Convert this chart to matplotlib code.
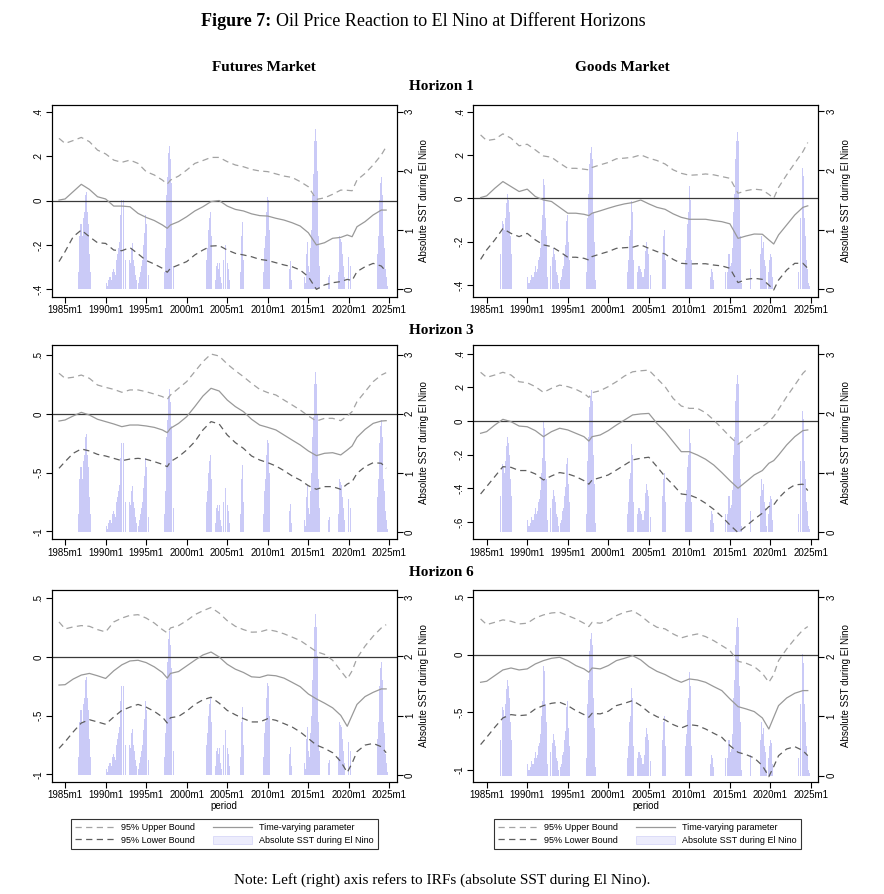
import matplotlib
matplotlib.use("Agg")
import matplotlib.pyplot as plt
from matplotlib.ticker import FuncFormatter
from matplotlib.patches import Patch
from matplotlib.lines import Line2D

SANS = "Liberation Sans"
SERIF = "Liberation Serif"

# x grid for the IRF lines (decimal years)
years = [1984.25, 1985, 1986, 1987, 1988, 1989, 1990, 1991, 1992, 1993,
         1994, 1995, 1996, 1997, 1997.6, 1998, 1999, 2000, 2001, 2002,
         2003, 2004, 2005, 2006, 2007, 2008, 2009, 2010, 2011, 2012,
         2013, 2014, 2015, 2016, 2017, 2018, 2019, 2019.8, 2020.4, 2021,
         2022, 2023, 2024, 2024.6]

# ---- Horizon 1, futures
h1_fut_upper = [0.28, 0.257, 0.27, 0.284, 0.265, 0.227, 0.21, 0.182, 0.172, 0.182,
                0.167, 0.13, 0.115, 0.092, 0.074, 0.092, 0.11, 0.137, 0.167, 0.18,
                0.194, 0.194, 0.175, 0.16, 0.152, 0.14, 0.133, 0.13, 0.12, 0.11,
                0.104, 0.085, 0.062, 0.005, 0.012, 0.028, 0.047, 0.046, 0.044, 0.092,
                0.122, 0.16, 0.205, 0.242]
h1_fut_param = [0.002, 0.007, 0.04, 0.073, 0.05, 0.017, 0.007, -0.025, -0.025, -0.028,
                -0.058, -0.076, -0.09, -0.11, -0.125, -0.11, -0.095, -0.073, -0.047, -0.028,
                -0.005, 0.0, -0.025, -0.04, -0.047, -0.06, -0.068, -0.07, -0.08, -0.088,
                -0.1, -0.115, -0.145, -0.2, -0.19, -0.17, -0.166, -0.155, -0.163, -0.118,
                -0.095, -0.065, -0.043, -0.043]
h1_fut_lower = [-0.275, -0.23, -0.163, -0.133, -0.163, -0.19, -0.193, -0.223, -0.226, -0.212,
                -0.24, -0.27, -0.286, -0.305, -0.323, -0.305, -0.29, -0.275, -0.245, -0.223,
                -0.205, -0.203, -0.223, -0.238, -0.245, -0.253, -0.265, -0.27, -0.28, -0.29,
                -0.298, -0.313, -0.343, -0.4, -0.38, -0.37, -0.365, -0.355, -0.36, -0.32,
                -0.298, -0.283, -0.295, -0.32]

# ---- Horizon 1, goods
h1_goods_upper = [0.292, 0.266, 0.272, 0.297, 0.277, 0.242, 0.249, 0.223, 0.195, 0.189,
                  0.162, 0.138, 0.138, 0.134, 0.131, 0.142, 0.154, 0.165, 0.182, 0.185,
                  0.189, 0.2, 0.185, 0.174, 0.158, 0.131, 0.115, 0.106, 0.108, 0.112,
                  0.108, 0.1, 0.092, 0.023, 0.035, 0.042, 0.038, 0.018, 0.0, 0.05,
                  0.108, 0.162, 0.215, 0.257]
h1_goods_param = [0.003, 0.011, 0.046, 0.077, 0.054, 0.031, 0.042, 0.008, -0.008, -0.015,
                  -0.042, -0.069, -0.069, -0.074, -0.08, -0.069, -0.058, -0.046, -0.035, -0.026,
                  -0.02, -0.008, -0.026, -0.042, -0.051, -0.072, -0.088, -0.097, -0.097, -0.097,
                  -0.103, -0.108, -0.118, -0.185, -0.174, -0.165, -0.166, -0.192, -0.211, -0.169,
                  -0.123, -0.077, -0.042, -0.035]
h1_goods_lower = [-0.282, -0.238, -0.192, -0.14, -0.162, -0.177, -0.162, -0.192, -0.215, -0.223,
                  -0.246, -0.272, -0.272, -0.277, -0.285, -0.269, -0.257, -0.246, -0.231, -0.228,
                  -0.226, -0.215, -0.231, -0.246, -0.257, -0.282, -0.3, -0.303, -0.302, -0.302,
                  -0.308, -0.312, -0.323, -0.389, -0.374, -0.369, -0.374, -0.4, -0.423, -0.377,
                  -0.331, -0.3, -0.3, -0.323]

# ---- Horizon 3, futures
h3_fut_upper = [0.347, 0.304, 0.313, 0.332, 0.304, 0.247, 0.227, 0.21, 0.185, 0.205,
                0.205, 0.19, 0.17, 0.148, 0.125, 0.162, 0.219, 0.276, 0.361, 0.446,
                0.511, 0.494, 0.426, 0.369, 0.318, 0.261, 0.21, 0.182, 0.162, 0.119,
                0.077, 0.034, -0.017, -0.06, -0.037, -0.037, -0.057, -0.017, 0.02, 0.105,
                0.19, 0.276, 0.332, 0.352]
h3_fut_param = [-0.06, -0.051, -0.017, 0.014, -0.009, -0.045, -0.065, -0.085, -0.108, -0.094,
                -0.094, -0.102, -0.114, -0.136, -0.159, -0.122, -0.08, -0.023, 0.063, 0.153,
                0.219, 0.196, 0.119, 0.063, 0.02, -0.045, -0.094, -0.114, -0.136, -0.179,
                -0.222, -0.264, -0.315, -0.355, -0.335, -0.33, -0.349, -0.307, -0.273, -0.199,
                -0.131, -0.08, -0.06, -0.057]
h3_fut_lower = [-0.463, -0.406, -0.335, -0.298, -0.315, -0.344, -0.358, -0.378, -0.398, -0.384,
                -0.378, -0.386, -0.406, -0.429, -0.449, -0.406, -0.364, -0.307, -0.236, -0.136,
                -0.065, -0.085, -0.179, -0.244, -0.293, -0.358, -0.392, -0.415, -0.443, -0.483,
                -0.528, -0.563, -0.611, -0.642, -0.619, -0.619, -0.642, -0.597, -0.577, -0.506,
                -0.449, -0.415, -0.42, -0.463]

# ---- Horizon 3, goods
h3_goods_upper = [0.289, 0.259, 0.273, 0.289, 0.273, 0.233, 0.227, 0.204, 0.17, 0.194,
                  0.213, 0.204, 0.188, 0.164, 0.14, 0.168, 0.18, 0.204, 0.233, 0.267,
                  0.292, 0.298, 0.302, 0.253, 0.204, 0.134, 0.089, 0.075, 0.075, 0.049,
                  0.006, -0.043, -0.093, -0.138, -0.103, -0.063, -0.034, -0.004, 0.026, 0.069,
                  0.144, 0.213, 0.283, 0.312]
h3_goods_param = [-0.073, -0.063, -0.024, 0.01, -0.004, -0.03, -0.034, -0.057, -0.093, -0.063,
                  -0.043, -0.053, -0.073, -0.093, -0.119, -0.093, -0.083, -0.057, -0.024, 0.006,
                  0.036, 0.042, 0.045, -0.014, -0.063, -0.123, -0.182, -0.182, -0.202, -0.227,
                  -0.261, -0.306, -0.354, -0.399, -0.36, -0.32, -0.294, -0.251, -0.235, -0.202,
                  -0.142, -0.093, -0.057, -0.053]
h3_goods_lower = [-0.433, -0.389, -0.33, -0.271, -0.275, -0.294, -0.294, -0.314, -0.35, -0.326,
                  -0.306, -0.314, -0.33, -0.354, -0.375, -0.35, -0.336, -0.32, -0.291, -0.261,
                  -0.231, -0.221, -0.215, -0.271, -0.33, -0.379, -0.433, -0.439, -0.458, -0.488,
                  -0.524, -0.567, -0.617, -0.662, -0.623, -0.583, -0.547, -0.508, -0.498, -0.458,
                  -0.409, -0.379, -0.375, -0.413]

# ---- Horizon 6, futures
h6_fut_upper = [0.298, 0.239, 0.256, 0.267, 0.261, 0.233, 0.213, 0.298, 0.331, 0.354,
                0.36, 0.331, 0.289, 0.233, 0.205, 0.247, 0.267, 0.309, 0.36, 0.393,
                0.421, 0.374, 0.309, 0.261, 0.233, 0.211, 0.213, 0.233, 0.219, 0.197,
                0.169, 0.14, 0.093, 0.045, 0.022, -0.028, -0.118, -0.188, -0.118, -0.011,
                0.093, 0.177, 0.247, 0.275]
h6_fut_param = [-0.239, -0.236, -0.188, -0.154, -0.14, -0.16, -0.183, -0.118, -0.067, -0.034,
                -0.028, -0.048, -0.084, -0.132, -0.18, -0.14, -0.124, -0.076, -0.028, 0.017,
                0.042, 0.0, -0.062, -0.104, -0.132, -0.169, -0.174, -0.154, -0.16, -0.18,
                -0.216, -0.253, -0.315, -0.357, -0.393, -0.433, -0.497, -0.59, -0.497, -0.404,
                -0.337, -0.301, -0.272, -0.272]
h6_fut_lower = [-0.778, -0.722, -0.638, -0.562, -0.534, -0.553, -0.573, -0.511, -0.455, -0.427,
                -0.404, -0.427, -0.463, -0.511, -0.562, -0.517, -0.506, -0.461, -0.404, -0.365,
                -0.343, -0.393, -0.455, -0.492, -0.525, -0.553, -0.553, -0.525, -0.539, -0.567,
                -0.596, -0.638, -0.694, -0.75, -0.778, -0.815, -0.89, -0.983, -0.904, -0.806,
                -0.75, -0.736, -0.764, -0.815]

# ---- Horizon 6, goods
h6_goods_upper = [0.309, 0.26, 0.28, 0.301, 0.289, 0.266, 0.272, 0.318, 0.344, 0.361,
                  0.367, 0.338, 0.309, 0.272, 0.243, 0.28, 0.272, 0.295, 0.338, 0.367,
                  0.382, 0.338, 0.28, 0.237, 0.223, 0.179, 0.145, 0.165, 0.179, 0.156,
                  0.121, 0.078, 0.035, -0.058, -0.075, -0.104, -0.162, -0.24, -0.173, -0.052,
                  0.049, 0.136, 0.214, 0.243]
h6_goods_param = [-0.24, -0.231, -0.182, -0.133, -0.116, -0.133, -0.124, -0.081, -0.052, -0.032,
                  -0.023, -0.052, -0.095, -0.124, -0.153, -0.116, -0.124, -0.095, -0.052, -0.032,
                  -0.009, -0.046, -0.104, -0.145, -0.173, -0.211, -0.24, -0.211, -0.22, -0.24,
                  -0.277, -0.312, -0.384, -0.451, -0.471, -0.494, -0.549, -0.645, -0.543, -0.442,
                  -0.376, -0.335, -0.312, -0.312]
h6_goods_lower = [-0.78, -0.717, -0.63, -0.549, -0.52, -0.529, -0.523, -0.471, -0.442, -0.422,
                  -0.413, -0.442, -0.486, -0.52, -0.543, -0.509, -0.514, -0.491, -0.442, -0.422,
                  -0.399, -0.442, -0.5, -0.538, -0.566, -0.607, -0.636, -0.607, -0.616, -0.645,
                  -0.682, -0.717, -0.789, -0.847, -0.867, -0.896, -0.962, -1.058, -0.971, -0.876,
                  -0.818, -0.798, -0.832, -0.876]

# Absolute SST during El Nino: (start year, start month, monthly values)
sst_episodes = [
    (1986, 8, [0.3, 0.6, 0.9, 1.1, 1.15, 1.1, 0.9, 1.0, 1.2, 1.3, 1.45, 1.6, 1.65,
               1.5, 1.3, 1.1, 0.9, 0.6, 0.3]),
    (1990, 1, [0.2, 0.1, 0.05, 0.1, 0.15, 0.2, 0.25, 0.2, 0.15, 0.2, 0.3, 0.35,
               0.4, 0.3, 0.25, 0.35, 0.5, 0.6, 0.55, 0.7, 0.8, 1.0, 1.25, 1.5,
               1.85, 1.75, 1.5, 1.2, 0.9, 0.5, 0.2]),
    (1992, 11, [0.4, 0.5, 0.45, 0.55, 0.7, 0.78, 0.6, 0.5, 0.4, 0.3, 0.25, 0.15, 0.1]),
    (1994, 1, [0.1, 0.15, 0.2, 0.3, 0.35, 0.4, 0.5, 0.6, 0.75, 0.95, 1.15, 1.25,
               1.1, 0.8, 0.5, 0.25]),
    (1997, 4, [0.3, 0.7, 1.2, 1.6, 1.9, 2.1, 2.3, 2.42, 2.4, 2.2, 1.8, 1.3, 0.8, 0.4, 0.15]),
    (2002, 5, [0.3, 0.5, 0.7, 0.9, 1.0, 1.2, 1.48, 1.3, 0.9, 0.5]),
    (2003, 7, [0.15, 0.3, 0.4, 0.45, 0.4, 0.35, 0.45, 0.3, 0.2, 0.1, 0.2, 0.35,
               0.5, 0.65, 0.8, 0.75, 0.7, 0.6, 0.45, 0.35, 0.25, 0.15]),
    (2006, 8, [0.3, 0.6, 0.9, 1.14, 1.0, 0.5]),
    (2009, 6, [0.3, 0.5, 0.7, 0.9, 1.1, 1.3, 1.55, 1.74, 1.5, 1.0, 0.5]),
    (2012, 8, [0.2, 0.35, 0.47, 0.3, 0.15]),
    (2014, 6, [0.3, 0.2, 0.1, 0.3, 0.6, 0.8, 0.6, 0.4, 0.3, 0.45, 0.7, 1.0, 1.3,
               1.6, 1.95, 2.2, 2.5, 2.71, 2.65, 2.5, 2.0, 1.5, 0.9, 0.4, 0.1]),
    (2017, 6, [0.2, 0.35, 0.25]),
    (2018, 9, [0.3, 0.6, 0.9, 0.85, 0.7, 0.8, 0.6, 0.5, 0.4, 0.2, 0.1]),
    (2019, 10, [0.3, 0.5, 0.55, 0.6, 0.55, 0.4, 0.2]),
    (2023, 6, [0.3, 0.6, 0.9, 1.2, 1.5, 1.8, 2.04, 1.9, 1.6, 1.2, 0.9, 0.7,
               0.5, 0.35, 0.2, 0.1, 0.05]),
]

xtick_years = [1985, 1990, 1995, 2000, 2005, 2010, 2015, 2020, 2025]
xtick_labels = [f"{y}m1" for y in xtick_years]

# panel settings: (upper, param, lower, left ylim, left ticks, right ylim)
panels = {
    (0, 0): (h1_fut_upper, h1_fut_param, h1_fut_lower, (-0.433, 0.43),
             [-0.4, -0.2, 0, 0.2, 0.4], (-0.124, 3.11)),
    (0, 1): (h1_goods_upper, h1_goods_param, h1_goods_lower, (-0.454, 0.43),
             [-0.4, -0.2, 0, 0.2, 0.4], (-0.123, 3.10)),
    (1, 0): (h3_fut_upper, h3_fut_param, h3_fut_lower, (-1.068, 0.588),
             [-1, -0.5, 0, 0.5], (-0.124, 3.164)),
    (1, 1): (h3_goods_upper, h3_goods_param, h3_goods_lower, (-0.702, 0.451),
             [-0.6, -0.4, -0.2, 0, 0.2, 0.4], (-0.124, 3.152)),
    (2, 0): (h6_fut_upper, h6_fut_param, h6_fut_lower, (-1.06, 0.57),
             [-1, -0.5, 0, 0.5], (-0.112, 3.12)),
    (2, 1): (h6_goods_upper, h6_goods_param, h6_goods_lower, (-1.10, 0.56),
             [-1, -0.5, 0, 0.5], (-0.10, 3.12)),
}

UPPER_C = "#a3a3a3"
LOWER_C = "#5e5e5e"
PARAM_C = "#999999"
BAR_C = "#cacaf7"


def stata_fmt(v, pos=None):
    if abs(v) < 1e-9:
        return "0"
    s = f"{v:g}"
    return s.replace("0.", ".")


def sst_bars():
    """月次のSST棒の位置と高さ"""
    xs, hs = [], []
    for y0, m0, vals in sst_episodes:
        for i, v in enumerate(vals):
            xs.append(y0 + (m0 - 1 + i) / 12.0)
            hs.append(v)
    return xs, hs


def draw_panel(fig, rect, key, show_xlabel):
    upper, param, lower, ylim, yticks, ylim_r = panels[key]
    ax = fig.add_axes(rect)
    ax2 = ax.twinx()
    ax.set_zorder(ax2.get_zorder() + 1)
    ax.patch.set_visible(False)

    bx, bh = sst_bars()
    ax2.bar(bx, bh, width=1 / 12 * 0.9, color=BAR_C, edgecolor="none",
            align="edge", linewidth=0)
    ax2.set_ylim(*ylim_r)
    ax2.set_yticks([0, 1, 2, 3])
    ax2.set_yticklabels(["0", "1", "2", "3"], rotation=90, va="center",
                        fontsize=7, family=SANS)
    ax2.set_ylabel("Absolute SST during El Nino", fontsize=7, family=SANS,
                   labelpad=3)

    ax.axhline(0, color="#3a3a3a", lw=0.9, zorder=1)
    ax.plot(years, upper, color=UPPER_C, lw=0.9, dashes=(5, 3.5))
    ax.plot(years, param, color=PARAM_C, lw=0.9)
    ax.plot(years, lower, color=LOWER_C, lw=0.9, dashes=(5, 3.5))

    ax.set_xlim(1983.35, 2025.9)
    ax.set_ylim(*ylim)
    ax.set_yticks(yticks)
    ax.yaxis.set_major_formatter(FuncFormatter(stata_fmt))
    for lbl in ax.get_yticklabels():
        lbl.set_rotation(90)
        lbl.set_va("center")
        lbl.set_fontsize(7)
        lbl.set_family(SANS)
    ax.set_xticks(xtick_years)
    ax.set_xticklabels(xtick_labels, fontsize=7, family=SANS)
    if show_xlabel:
        ax.set_xlabel("period", fontsize=7, family=SANS, labelpad=1)

    for a in (ax, ax2):
        a.tick_params(length=4, width=0.8, pad=2)
        for sp in a.spines.values():
            sp.set_linewidth(0.8)
    return ax


def main():
    W, H = 884, 894
    fig = plt.figure(figsize=(W / 100, H / 100), dpi=100)

    lefts = [51.7, 473.3]
    width = 345.0
    rows = [(105.0, 296.7), (345.0, 539.3), (590.0, 781.5)]
    for r, (top, bot) in enumerate(rows):
        for c, left in enumerate(lefts):
            rect = [left / W, 1 - bot / H, width / W, (bot - top) / H]
            draw_panel(fig, rect, (r, c), show_xlabel=(r == 2))

    # タイトル類
    fig.text(271 / W, 1 - 22 / H, "Figure 7:", ha="right", va="center",
             fontsize=13, fontweight="bold", family=SERIF)
    fig.text(276 / W, 1 - 22 / H, "Oil Price Reaction to El Nino at Different Horizons",
             ha="left", va="center", fontsize=13, family=SERIF)
    fig.text(263.5 / W, 1 - 67.5 / H, "Futures Market", ha="center", va="center",
             fontsize=11, fontweight="bold", family=SERIF)
    fig.text(622 / W, 1 - 67.5 / H, "Goods Market", ha="center", va="center",
             fontsize=11, fontweight="bold", family=SERIF)
    for label, y in [("Horizon 1", 87), ("Horizon 3", 330), ("Horizon 6", 573)]:
        fig.text(441 / W, 1 - y / H, label, ha="center", va="center",
                 fontsize=11, fontweight="bold", family=SERIF)

    # 凡例 (各列の下)
    handles = [
        Line2D([], [], color=UPPER_C, lw=0.9, dashes=(5, 3.5)),
        Line2D([], [], color=LOWER_C, lw=0.9, dashes=(5, 3.5)),
        Line2D([], [], color=PARAM_C, lw=0.9),
        Patch(facecolor="#ececfc", edgecolor="#d8d8f8", lw=0.6),
    ]
    labels = ["95% Upper Bound", "95% Lower Bound", "Time-varying parameter",
              "Absolute SST during El Nino"]
    for cx in (224.4, 647.5):
        leg = fig.legend(handles, labels, loc="center",
                         bbox_to_anchor=(cx / W, 1 - 834 / H), ncol=2,
                         prop={"family": SANS, "size": 6.5}, frameon=True,
                         fancybox=False, edgecolor="black", handlelength=4.3,
                         handleheight=1.0, handletextpad=0.8, columnspacing=2.0,
                         labelspacing=0.35, borderpad=0.45)
        leg.get_frame().set_linewidth(0.8)

    fig.text(0.5, 1 - 880 / H,
             "Note: Left (right) axis refers to IRFs (absolute SST during El Nino).",
             ha="center", va="center", fontsize=11, family=SERIF)

    fig.savefig("out.png", dpi=100)
    plt.close(fig)


if __name__ == "__main__":
    main()
